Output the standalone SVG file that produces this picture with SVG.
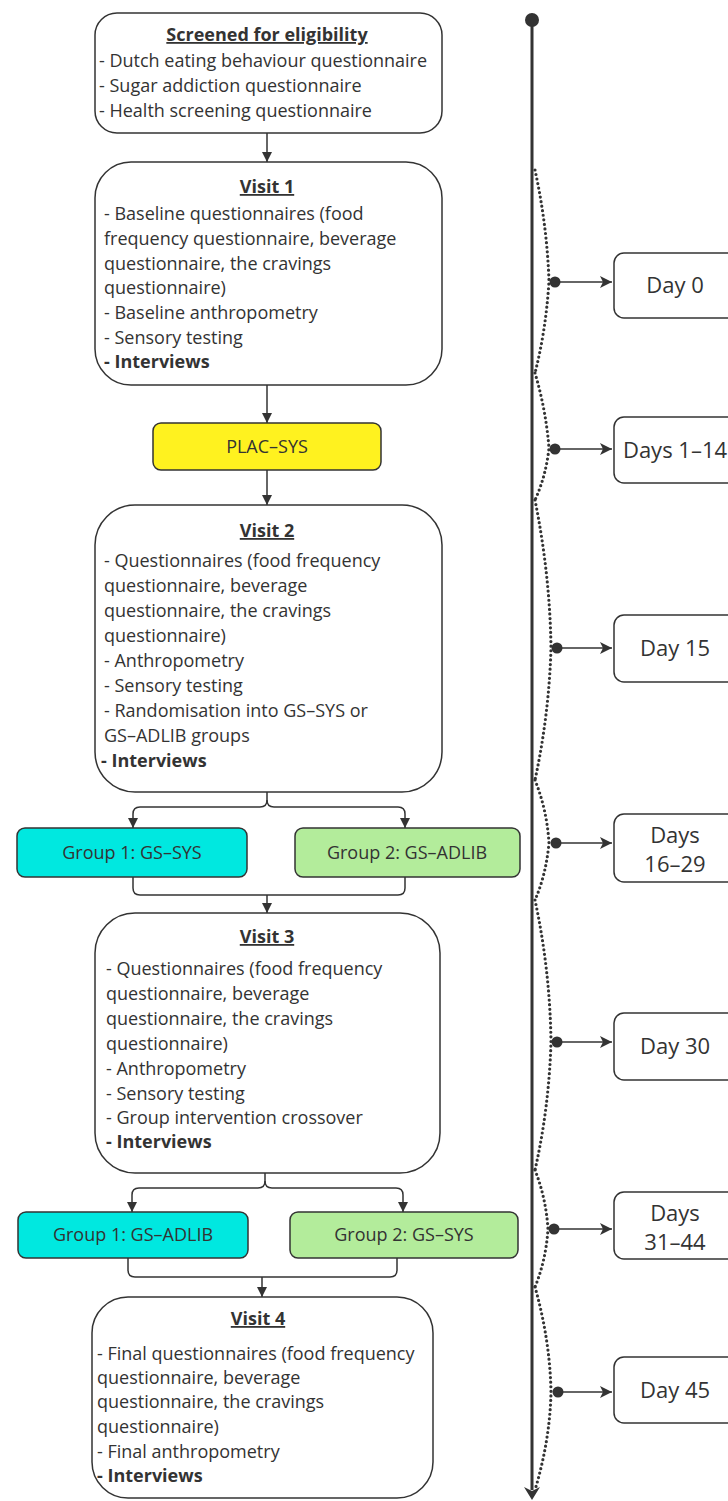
<svg xmlns="http://www.w3.org/2000/svg" width="728" height="1501" viewBox="0 0 728 1501">
<style>
text{font-family:"Open Sans","Noto Sans","Liberation Sans",sans-serif;fill:#333;font-size:18px}
.t{font-weight:bold;text-decoration:underline;text-anchor:middle}
.b{font-weight:bold}
.c{text-anchor:middle}
.d{text-anchor:middle;font-size:22px}
.box{fill:#fff;stroke:#333;stroke-width:1.5}
.con{fill:none;stroke:#333;stroke-width:1.5}
.dot{fill:none;stroke:#333;stroke-width:3.2;stroke-linecap:round;stroke-dasharray:0 4.6}
</style>
<defs>
<marker id="ah" markerUnits="userSpaceOnUse" markerWidth="10" markerHeight="10" refX="10" refY="5" orient="auto">
<path d="M0,0 L10,5 L0,10 z" fill="#333"/>
</marker>
<marker id="ah2" markerUnits="userSpaceOnUse" markerWidth="12" markerHeight="12" refX="12" refY="6" orient="auto">
<path d="M0,0 L12,6 L0,12 L3,6 z" fill="#333"/>
</marker>
</defs>
<rect width="728" height="1501" fill="#fff"/>

<g id="connectors">
<path class="con" d="M267,133 V162" marker-end="url(#ah)"/>
<path class="con" d="M267,385 V423" marker-end="url(#ah)"/>
<path class="con" d="M267,470 V505" marker-end="url(#ah)"/>
<path class="con" d="M267,792 V800 Q267,807 260,807 H140 Q133,807 133,814 V828" marker-end="url(#ah)"/>
<path class="con" d="M267,800 Q267,807 274,807 H398 Q405,807 405,814 V828" marker-end="url(#ah)"/>
<path class="con" d="M133,877 V888 Q133,895 140,895 H398 Q405,895 405,888 V877"/>
<path class="con" d="M267,895 V913" marker-end="url(#ah)"/>
<path class="con" d="M265,1173 V1181 Q265,1188 258,1188 H139 Q132,1188 132,1195 V1212" marker-end="url(#ah)"/>
<path class="con" d="M265,1181 Q265,1188 272,1188 H396 Q403,1188 403,1195 V1212" marker-end="url(#ah)"/>
<path class="con" d="M128,1258 V1270 Q128,1277 135,1277 H390 Q397,1277 397,1270 V1258"/>
<path class="con" d="M262,1277 V1297" marker-end="url(#ah)"/>
</g>

<g id="screened">
<rect class="box" x="95" y="13" width="347" height="120" rx="22"/>
<text class="t" x="267" y="41">Screened for eligibility</text>
<text x="99" y="67">- Dutch eating behaviour questionnaire</text>
<text x="99" y="92">- Sugar addiction questionnaire</text>
<text x="99" y="117">- Health screening questionnaire</text>
</g>

<g id="visit1">
<rect class="box" x="95" y="162" width="347" height="223" rx="36"/>
<text class="t" x="267" y="193">Visit 1</text>
<text x="104" y="220">- Baseline questionnaires (food</text>
<text x="104" y="245">frequency questionnaire, beverage</text>
<text x="104" y="270">questionnaire, the cravings</text>
<text x="104" y="294">questionnaire)</text>
<text x="104" y="319">- Baseline anthropometry</text>
<text x="104" y="344">- Sensory testing</text>
<text class="b" x="104" y="368">- Interviews</text>
</g>

<g id="plac">
<rect x="153" y="423" width="228" height="47" rx="8" fill="#fff21f" stroke="#333" stroke-width="1.5"/>
<text class="c" x="267" y="453">PLAC–SYS</text>
</g>

<g id="visit2">
<rect class="box" x="95" y="505" width="347" height="287" rx="40"/>
<text class="t" x="267" y="537">Visit 2</text>
<text x="104" y="567">- Questionnaires (food frequency</text>
<text x="104" y="592">questionnaire, beverage</text>
<text x="104" y="617">questionnaire, the cravings</text>
<text x="104" y="642">questionnaire)</text>
<text x="104" y="667">- Anthropometry</text>
<text x="104" y="692">- Sensory testing</text>
<text x="104" y="717">- Randomisation into GS–SYS or</text>
<text x="104" y="742">GS–ADLIB groups</text>
<text class="b" x="101" y="767">- Interviews</text>
</g>

<g id="g1a">
<rect x="17" y="828" width="230" height="49" rx="8" fill="#00e8e0" stroke="#333" stroke-width="1.5"/>
<text class="c" x="132" y="859">Group 1: GS–SYS</text>
</g>
<g id="g2a">
<rect x="295" y="828" width="225" height="49" rx="8" fill="#b3ec9b" stroke="#333" stroke-width="1.5"/>
<text class="c" x="407" y="859">Group 2: GS–ADLIB</text>
</g>

<g id="visit3">
<rect class="box" x="95" y="913" width="345" height="260" rx="40"/>
<text class="t" x="267" y="943">Visit 3</text>
<text x="106" y="975">- Questionnaires (food frequency</text>
<text x="106" y="1000">questionnaire, beverage</text>
<text x="106" y="1025">questionnaire, the cravings</text>
<text x="106" y="1050">questionnaire)</text>
<text x="106" y="1075">- Anthropometry</text>
<text x="106" y="1100">- Sensory testing</text>
<text x="106" y="1124">- Group intervention crossover</text>
<text class="b" x="106" y="1148">- Interviews</text>
</g>

<g id="g1b">
<rect x="18" y="1212" width="230" height="46" rx="8" fill="#00e8e0" stroke="#333" stroke-width="1.5"/>
<text class="c" x="133" y="1241">Group 1: GS–ADLIB</text>
</g>
<g id="g2b">
<rect x="290" y="1212" width="228" height="46" rx="8" fill="#b3ec9b" stroke="#333" stroke-width="1.5"/>
<text class="c" x="404" y="1241">Group 2: GS–SYS</text>
</g>

<g id="visit4">
<rect class="box" x="92" y="1297" width="341" height="201" rx="36"/>
<text class="t" x="258" y="1325">Visit 4</text>
<text x="97" y="1360">- Final questionnaires (food frequency</text>
<text x="97" y="1384">questionnaire, beverage</text>
<text x="97" y="1408">questionnaire, the cravings</text>
<text x="97" y="1433">questionnaire)</text>
<text x="97" y="1458">- Final anthropometry</text>
<text class="b" x="97" y="1482">- Interviews</text>
</g>

<g id="timeline">
<circle cx="532" cy="20" r="7" fill="#333"/>
<path d="M532,20 V1490" stroke="#333" stroke-width="3" fill="none"/>
<path d="M524,1487 L532,1491 L540,1487 L532,1500 z" fill="#333"/>
<path class="dot" d="M535,170 Q547,225 549,281 Q546,330 535,373"/>
<path class="dot" d="M535,373 Q546,410 549,448 Q546,476 535,500"/>
<path class="dot" d="M535,500 Q550,575 551,648 Q549,715 535,780"/>
<path class="dot" d="M535,780 Q547,810 549,843 Q546,875 535,900"/>
<path class="dot" d="M535,900 Q550,970 551,1042 Q549,1108 535,1170"/>
<path class="dot" d="M535,1170 Q546,1198 548,1229 Q546,1260 535,1287"/>
<path class="dot" d="M535,1287 Q550,1340 551,1392 Q550,1440 535,1490"/>
</g>

<g id="day0">
<circle cx="555" cy="282" r="5.5" fill="#333"/>
<path class="con" d="M555,282 H612" stroke-width="2" marker-end="url(#ah2)"/>
<rect class="box" x="614" y="253" width="124" height="65" rx="10"/>
<text class="d" x="675" y="293">Day 0</text>
</g>
<g id="days1-14">
<circle cx="555" cy="449" r="5.5" fill="#333"/>
<path class="con" d="M555,449 H612" stroke-width="2" marker-end="url(#ah2)"/>
<rect class="box" x="614" y="417" width="124" height="66" rx="10"/>
<text class="d" x="675" y="458">Days 1–14</text>
</g>
<g id="day15">
<circle cx="557" cy="648" r="5.5" fill="#333"/>
<path class="con" d="M557,648 H612" stroke-width="2" marker-end="url(#ah2)"/>
<rect class="box" x="614" y="615" width="124" height="67" rx="10"/>
<text class="d" x="675" y="656">Day 15</text>
</g>
<g id="days16-29">
<circle cx="556" cy="843" r="5.5" fill="#333"/>
<path class="con" d="M556,843 H612" stroke-width="2" marker-end="url(#ah2)"/>
<rect class="box" x="614" y="814" width="124" height="68" rx="10"/>
<text class="d" x="675" y="843">Days</text>
<text class="d" x="675" y="872">16–29</text>
</g>
<g id="day30">
<circle cx="557" cy="1042" r="5.5" fill="#333"/>
<path class="con" d="M557,1042 H612" stroke-width="2" marker-end="url(#ah2)"/>
<rect class="box" x="614" y="1013" width="124" height="67" rx="10"/>
<text class="d" x="675" y="1054">Day 30</text>
</g>
<g id="days31-44">
<circle cx="554" cy="1229" r="5.5" fill="#333"/>
<path class="con" d="M554,1229 H612" stroke-width="2" marker-end="url(#ah2)"/>
<rect class="box" x="614" y="1192" width="124" height="67" rx="10"/>
<text class="d" x="675" y="1221">Days</text>
<text class="d" x="675" y="1250">31–44</text>
</g>
<g id="day45">
<circle cx="558" cy="1392" r="5.5" fill="#333"/>
<path class="con" d="M558,1392 H612" stroke-width="2" marker-end="url(#ah2)"/>
<rect class="box" x="614" y="1357" width="124" height="66" rx="10"/>
<text class="d" x="675" y="1398">Day 45</text>
</g>
</svg>
